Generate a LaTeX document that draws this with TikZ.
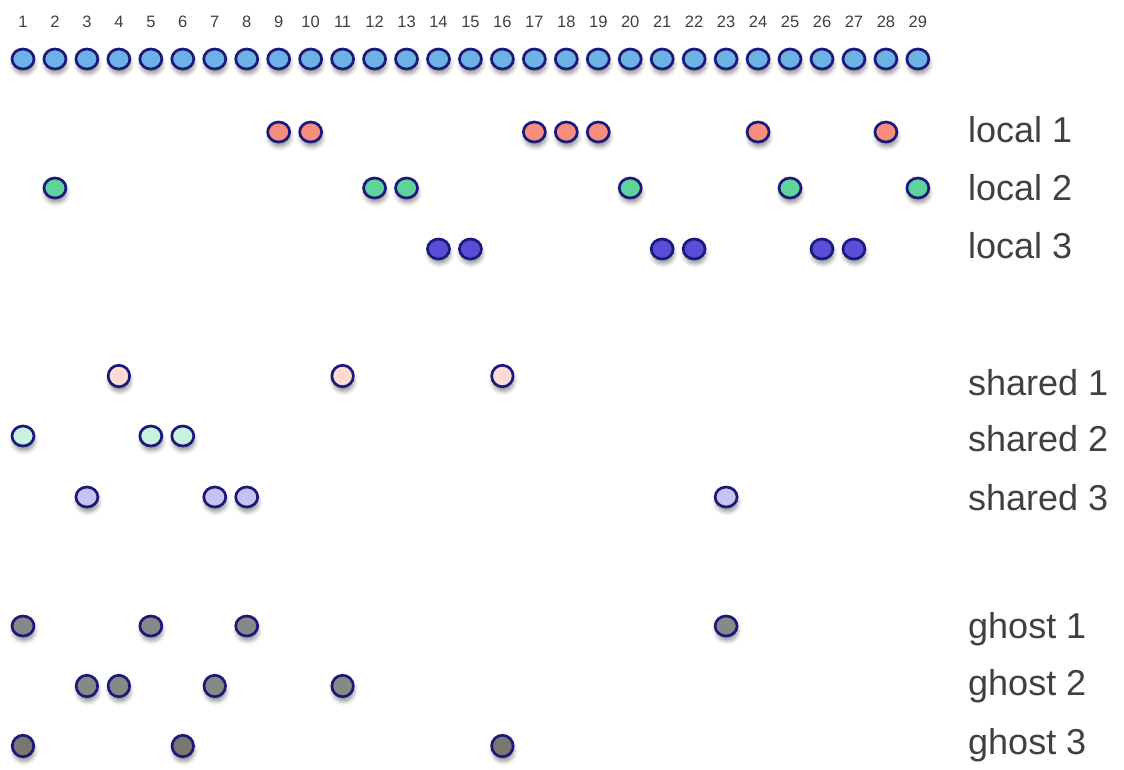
\documentclass[tikz,border=0pt]{standalone}
\usepackage{fontspec}
\setmainfont{Liberation Sans}
\usetikzlibrary{shadows.blur,shapes.geometric}
\definecolor{edgec}{HTML}{1B1A7C}
\definecolor{topc}{HTML}{6FB1E7}
\definecolor{l1c}{HTML}{F78E7D}
\definecolor{l2c}{HTML}{5ED39B}
\definecolor{l3c}{HTML}{5A4ED6}
\definecolor{s1c}{HTML}{FDDAD4}
\definecolor{s2c}{HTML}{C9F1DD}
\definecolor{s3c}{HTML}{C6C3F0}
\definecolor{g1c}{HTML}{888888}
\definecolor{g3c}{HTML}{7C7672}
\definecolor{txtc}{HTML}{404040}
\tikzset{
  dot/.style={ellipse, draw=edgec, line width=2.7pt, inner sep=0pt,
    minimum width=22pt, minimum height=20pt,
    blur shadow={shadow xshift=1pt, shadow yshift=-5pt, shadow blur radius=4pt, shadow opacity=40}},
  rdot/.style={dot, minimum width=21.5pt, minimum height=21.5pt},
  tdot/.style={dot, minimum width=22pt, minimum height=20pt},
  num/.style={text=txtc, font=\fontsize{16.5}{18}\selectfont, inner sep=0pt},
  lab/.style={text=txtc, font=\fontsize{36}{40}\selectfont, anchor=west, inner sep=0pt}
}
\begin{document}
\begin{tikzpicture}[x=1pt,y=-1pt]
\useasboundingbox (0,0) rectangle (1124,769);
\foreach \i in {1,...,29}{
  \node[num] (n\i) at ({23+(\i-1)*31.96},22) {\i};
  \node[tdot, fill=topc] (t\i) at ({23+(\i-1)*31.96},59) {};
}
\foreach \i in {9,10,17,18,19,24,28}{\node[dot, fill=l1c] (la\i) at ({23+(\i-1)*31.96},132) {};}
\foreach \i in {2,12,13,20,25,29}{\node[dot, fill=l2c] (lb\i) at ({23+(\i-1)*31.96},188) {};}
\foreach \i in {14,15,21,22,26,27}{\node[dot, fill=l3c] (lc\i) at ({23+(\i-1)*31.96},249) {};}
\foreach \i in {4,11,16}{\node[rdot, fill=s1c] (sa\i) at ({23+(\i-1)*31.96},376) {};}
\foreach \i in {1,5,6}{\node[dot, fill=s2c] (sb\i) at ({23+(\i-1)*31.96},436) {};}
\foreach \i in {3,7,8,23}{\node[dot, fill=s3c] (sc\i) at ({23+(\i-1)*31.96},497) {};}
\foreach \i in {1,5,8,23}{\node[dot, fill=g1c] (ga\i) at ({23+(\i-1)*31.96},626) {};}
\foreach \i in {3,4,7,11}{\node[rdot, fill=g1c] (gb\i) at ({23+(\i-1)*31.96},686) {};}
\foreach \i in {1,6,16}{\node[rdot, fill=g3c] (gc\i) at ({23+(\i-1)*31.96},746) {};}
\node[lab] (L1) at (968,130) {local 1};
\node[lab] (L2) at (968,188) {local 2};
\node[lab] (L3) at (968,246) {local 3};
\node[lab] (S1) at (968,383) {shared 1};
\node[lab] (S2) at (968,439) {shared 2};
\node[lab] (S3) at (968,498) {shared 3};
\node[lab] (G1) at (968,629) {ghost 1};
\node[lab] (G2) at (968,686) {ghost 2};
\node[lab] (G3) at (968,745) {ghost 3};
\end{tikzpicture}
\end{document}
